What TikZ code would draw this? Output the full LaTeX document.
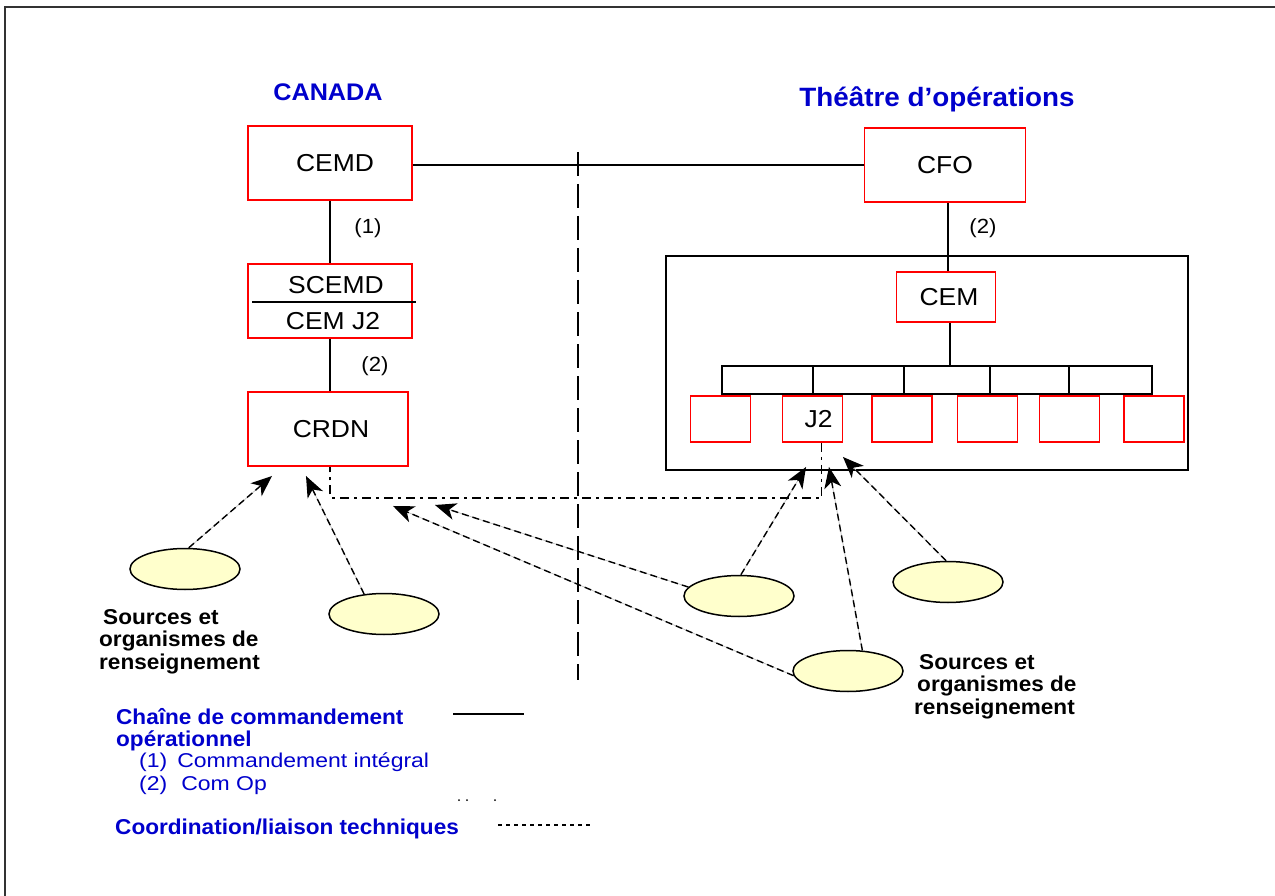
\documentclass[tikz,border=0pt]{standalone}
\usepackage{fontspec}
\setmainfont{Liberation Sans}
\newfontfamily\regfam[FakeStretch=1.08]{Liberation Sans}
\newfontfamily\boldfam[FakeStretch=1.05]{Liberation Sans}
\newfontfamily\legfam[FakeStretch=1.15]{Liberation Sans}
\usetikzlibrary{arrows.meta,shapes.geometric}
\definecolor{boxred}{RGB}{255,0,0}
\definecolor{titleblue}{RGB}{0,0,204}
\definecolor{srcfill}{RGB}{255,255,204}

\begin{document}
\begin{tikzpicture}[x=1pt,y=-1pt,
  box/.style={draw=boxred, line width=1.6pt, rectangle, inner sep=0pt,
    font=\regfam\fontsize{24.5}{27}\selectfont},
  small/.style={box, minimum width=60pt, minimum height=46pt},
  wire/.style={draw=black, line width=1.5pt},
  paren/.style={font=\regfam\fontsize{20.5}{23}\selectfont},
  title/.style={text=titleblue, font=\boldfam\bfseries\fontsize{#1}{#1}\selectfont},
  srctext/.style={anchor=base west, align=left, inner sep=0pt,
    font=\boldfam\bfseries\fontsize{21.5}{22.5}\selectfont},
  legbold/.style={anchor=base west, inner sep=0pt, text=titleblue,
    font=\boldfam\bfseries\fontsize{21.5}{22}\selectfont},
  legreg/.style={anchor=base west, inner sep=0pt, text=titleblue,
    font=\legfam\fontsize{20}{22}\selectfont},
  src/.style={ellipse, draw=black, line width=1.5pt, fill=srcfill,
    minimum width=110pt, minimum height=41pt, inner sep=0pt},
  feed/.style={line width=1.4pt, dash pattern=on 7pt off 4pt,
    -{Stealth[length=21pt,width=17pt,inset=6pt]},
    preaction={draw=black!25, line width=0.7pt, solid, arrows=-}},
  coordline/.style={line width=1.8pt, dash pattern=on 9pt off 5pt on 3pt off 5pt},
  border/.style={draw=black!80, line width=2pt},
  separator/.style={line width=1.7pt, dash pattern=on 24pt off 8pt},
]
\useasboundingbox (0,0) rectangle (1275,896);
\clip (0,0) rectangle (1275,896);

% page frame, running past the right and lower edges
\draw[border] (5,7) rectangle (1300,920);

% headings
\node[title=24] (canada) at (328,92) {CANADA};
\node[title=26.5] (theatreTitle) at (937,99) {Théâtre d’opérations};

% vertical divider between the two sides
\coordinate (sepTop) at (578,152);
\coordinate (sepBot) at (578,680);
\draw[separator] (sepTop) -- (sepBot);

% Canada chain
\node[box, minimum width=164pt, minimum height=74pt] (CEMD) at (330,163) {\hspace*{10pt}CEMD};
\node[box, minimum width=164pt, minimum height=74pt] (SCEMD) at (330,301) {};
\node[font=\regfam\fontsize{24.5}{27}\selectfont] (scemdTop) at (336,285) {SCEMD};
\node[font=\regfam\fontsize{24.5}{27}\selectfont] (scemdBot) at (333,321) {CEM J2};
\draw[wire] ([xshift=5pt,yshift=-1pt]SCEMD.west) -- ([xshift=3pt,yshift=-1pt]SCEMD.east);
\node[box, minimum width=160pt, minimum height=74pt] (CRDN) at (328,429) {\hspace*{6pt}CRDN};

\draw[wire] (CEMD.south) -- (SCEMD.north);
\draw[wire] (SCEMD.south) -- (SCEMD.south |- CRDN.north);
\node[paren] (p1) at (368,228) {(1)};
\node[paren] (p2a) at (375,366) {(2)};

% theatre of operations
\node[box, minimum width=161pt, minimum height=74pt] (CFO) at (945,165) {CFO};
\draw[wire] (CEMD.east |- 0,165) -- (CFO.west |- 0,165);
\node[draw=black, line width=1.7pt, minimum width=522pt, minimum height=214pt, inner sep=0pt] (theatre) at (927,363) {};
\node[box, minimum width=99pt, minimum height=50pt] (CEM) at (946,297) {\hspace*{6pt}CEM};
\draw[wire] (CFO.south -| 948,0) -- (CEM.north -| 948,0);
\node[paren] (p2b) at (983,228) {(2)};

\node[draw=black, line width=1.5pt, minimum width=430pt, minimum height=28pt, inner sep=0pt] (bus) at (937,380) {};
\draw[wire] (CEM.south -| 950,0) -- (bus.north -| 950,0);

\node[small] (b1) at (720.5,419) {};
\node[small] (b2) at (812.5,419) {\hspace*{12pt}J2};
\node[small] (b3) at (902,419) {};
\node[small] (b4) at (987.5,419) {};
\node[small] (b5) at (1069.5,419) {};
\node[small] (b6) at (1154,419) {};
\foreach \b/\x in {b2/813, b3/904, b4/990, b5/1069}
  \draw[wire] (bus.north -| \x,0) -- (\b.north -| \x,0);

% technical coordination link between CRDN and J2
\draw[coordline] ([xshift=9pt]b2.south) -- ++(0,55) -| ([xshift=2pt]CRDN.south);

% intelligence sources
\node[src] (A) at (185,569) {};
\node[src] (B) at (384,614) {};
\node[src] (C) at (739,596) {};
\node[src] (D) at (948,582) {};
\node[src] (E) at (848,671) {};

\coordinate (tA) at (272,476);
\coordinate (tB) at (306,476);
\coordinate (tC1) at (806,467);
\coordinate (tC2) at (435,505);
\coordinate (tD) at (843,457);
\coordinate (tE1) at (829,467);
\coordinate (tE2) at (393,506);

\draw[feed] (A.80) -- (tA);
\draw[feed] (B.135) -- (tB);
\draw[feed] (C.85) -- (tC1);
\draw[feed] (C.170) -- (tC2);
\draw[feed] (D.95) -- (tD);
\draw[feed] (E.55) -- (tE1);
\draw[feed] (E.185) -- (tE2);

\node[srctext] (srcLeft) at (99,669) {\hspace*{4pt}Sources et\\organismes de\\renseignement};
\node[srctext] (srcRight) at (914,714) {\hspace*{5pt}Sources et\\\hspace*{3pt}organismes de\\renseignement};

% legend
\node[legbold] (lg1) at (116,724) {Chaîne de commandement};
\node[legbold] (lg2) at (116,746) {opérationnel};
\node[legreg] (lg3) at (139,767) {(1)\hspace{10pt}Commandement intégral};
\node[legreg] (lg4) at (139,790) {(2)\hspace{14pt}Com Op};
\node[legbold] (lg5) at (115,834) {Coordination/liaison techniques};

\coordinate (solidA) at (453,714);
\coordinate (solidB) at (524,714);
\draw[line width=1.5pt] (solidA) -- (solidB);
\coordinate (dotA) at (498,825);
\coordinate (dotB) at (590,825);
\draw[line width=1.3pt, dash pattern=on 4pt off 4pt] (dotA) -- (dotB);
\foreach \x in {459,467,495}
  \fill (\x,800) circle (1pt);
\end{tikzpicture}
\end{document}
